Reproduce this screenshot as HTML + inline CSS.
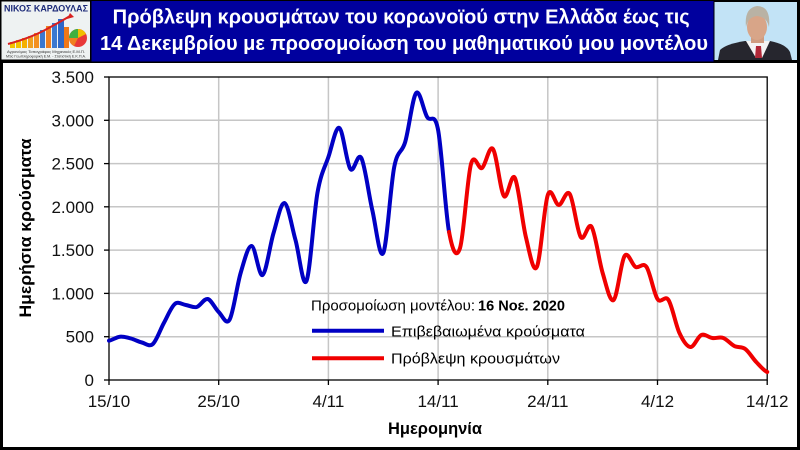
<!DOCTYPE html>
<html>
<head>
<meta charset="utf-8">
<style>
html,body{margin:0;padding:0;background:#000;}
body{width:800px;height:450px;overflow:hidden;}
svg{display:block;}
text{font-family:"Liberation Sans","DejaVu Sans",sans-serif;}
</style>
</head>
<body>
<svg width="800" height="450" viewBox="0 0 800 450" xmlns="http://www.w3.org/2000/svg">
  <rect x="0" y="0" width="800" height="450" fill="#000"/>

  <!-- Logo -->
  <rect x="1.5" y="1.5" width="88.5" height="58" fill="#eef2f2"/>
  <text x="46" y="11.5" font-size="9" font-weight="bold" fill="#1c2a78" text-anchor="middle" textLength="84" lengthAdjust="spacingAndGlyphs">ΝΙΚΟΣ ΚΑΡΔΟΥΛΑΣ</text>
  <g>
    <rect x="10" y="42" width="5" height="6" fill="#f2c200"/>
    <rect x="16" y="40" width="5" height="8" fill="#f2c200"/>
    <rect x="22" y="38" width="5" height="10" fill="#f5b000"/>
    <rect x="28" y="36" width="5" height="12" fill="#f0a020"/>
    <rect x="34" y="33" width="5" height="15" fill="#f39020"/>
    <rect x="40" y="30" width="5" height="18" fill="#3a78d0"/>
    <rect x="46" y="26" width="5" height="22" fill="#f08020"/>
    <rect x="52" y="23" width="5" height="25" fill="#3a78d0"/>
    <rect x="58" y="19" width="6" height="29" fill="#2e68c8"/>
    <rect x="64" y="27" width="5" height="21" fill="#f07818"/>
    <path d="M8,44 Q30,38 45,30 T70,16" stroke="#d82020" stroke-width="2" fill="none"/>
    <polygon points="70,13 74,17 67,19" fill="#d82020"/>
    <circle cx="78" cy="38" r="9" fill="#e83838"/>
    <path d="M78,38 L69,38 A9,9 0 0,1 78,29 Z" fill="#40b040"/>
    <path d="M78,38 L78,29 A9,9 0 0,1 86,34 Z" fill="#f0c000"/>
    <path d="M78,38 L69,38 A9,9 0 0,0 74,46 Z" fill="#f08020"/>
  </g>
  <text x="46" y="53" font-size="3.6" fill="#303030" text-anchor="middle" textLength="78" lengthAdjust="spacingAndGlyphs">Αγρονόμος Τοπογράφος Μηχανικός Ε.Μ.Π.</text>
  <text x="46" y="57.5" font-size="3.6" fill="#303030" text-anchor="middle" textLength="80" lengthAdjust="spacingAndGlyphs">MSc Γεωπληροφορική Ε.Μ. - Στατιστική Ε.Κ.Π.Α.</text>

  <!-- Blue title band -->
  <rect x="91.5" y="1" width="622" height="60.5" fill="#00009e"/>
  <text x="112.7" y="23.3" font-size="20" font-weight="bold" fill="#ffffff" textLength="577" lengthAdjust="spacingAndGlyphs">Πρόβλεψη κρουσμάτων του κορωνοϊού στην Ελλάδα έως τις</text>
  <text x="100" y="50" font-size="20" font-weight="bold" fill="#ffffff" textLength="608" lengthAdjust="spacingAndGlyphs">14 Δεκεμβρίου με προσομοίωση του μαθηματικού μου μοντέλου</text>

  <!-- Photo -->
  <rect x="714.5" y="2" width="82.5" height="58" fill="#c2e3f6"/>
  <path d="M718,60 L720,50 Q726,44 745,41 L770,41 Q786,44 790,52 L792,60 Z" fill="#26262e"/>
  <polygon points="746,41 770,41 762,58 756,58" fill="#f4f4f4"/>
  <polygon points="756,46 761,46 762,58 755,58" fill="#b02838"/>
  <rect x="751" y="34" width="13" height="9" fill="#cf9c80"/>
  <ellipse cx="757" cy="27" rx="10" ry="13" fill="#d8a588"/>
  <path d="M746,27 Q744,8 757,6 Q771,6 769,27 Q767,17 757,16 Q748,17 746,27 Z" fill="#b9b2a4"/>

  <!-- Chart white area -->
  <rect x="3" y="63" width="794" height="384" fill="#ffffff"/>

  <!-- Gridlines -->
  <g stroke="#c6c6c6" stroke-width="1.5">
    <line x1="109" y1="336.7" x2="767.2" y2="336.7"/>
    <line x1="109" y1="293.4" x2="767.2" y2="293.4"/>
    <line x1="109" y1="250.1" x2="767.2" y2="250.1"/>
    <line x1="109" y1="206.8" x2="767.2" y2="206.8"/>
    <line x1="109" y1="163.6" x2="767.2" y2="163.6"/>
    <line x1="109" y1="120.3" x2="767.2" y2="120.3"/>
    <line x1="218.7" y1="77" x2="218.7" y2="380"/>
    <line x1="328.4" y1="77" x2="328.4" y2="380"/>
    <line x1="438.1" y1="77" x2="438.1" y2="380"/>
    <line x1="547.8" y1="77" x2="547.8" y2="380"/>
    <line x1="657.5" y1="77" x2="657.5" y2="380"/>
  </g>

  <!-- Frame -->
  <rect x="109" y="77" width="658.2" height="303" fill="none" stroke="#000" stroke-width="1.3"/>
  <g stroke="#000" stroke-width="1.3">
    <line x1="104" y1="380" x2="109" y2="380"/>
    <line x1="104" y1="336.7" x2="109" y2="336.7"/>
    <line x1="104" y1="293.4" x2="109" y2="293.4"/>
    <line x1="104" y1="250.1" x2="109" y2="250.1"/>
    <line x1="104" y1="206.8" x2="109" y2="206.8"/>
    <line x1="104" y1="163.6" x2="109" y2="163.6"/>
    <line x1="104" y1="120.3" x2="109" y2="120.3"/>
    <line x1="104" y1="77" x2="109" y2="77"/>
    <line x1="109" y1="380" x2="109" y2="385"/>
    <line x1="218.7" y1="380" x2="218.7" y2="385"/>
    <line x1="328.4" y1="380" x2="328.4" y2="385"/>
    <line x1="438.1" y1="380" x2="438.1" y2="385"/>
    <line x1="547.8" y1="380" x2="547.8" y2="385"/>
    <line x1="657.5" y1="380" x2="657.5" y2="385"/>
    <line x1="767.2" y1="380" x2="767.2" y2="385"/>
  </g>

  <!-- Y labels -->
  <g font-size="17" fill="#111" text-anchor="end">
    <text x="94" y="386">0</text>
    <text x="94" y="342.7">500</text>
    <text x="94" y="299.4">1.000</text>
    <text x="94" y="256.1">1.500</text>
    <text x="94" y="212.8">2.000</text>
    <text x="94" y="169.6">2.500</text>
    <text x="94" y="126.3">3.000</text>
    <text x="94" y="83">3.500</text>
  </g>
  <!-- X labels -->
  <g font-size="17" fill="#111" text-anchor="middle">
    <text x="109" y="407">15/10</text>
    <text x="218.7" y="407">25/10</text>
    <text x="328.4" y="407">4/11</text>
    <text x="438.1" y="407">14/11</text>
    <text x="547.8" y="407">24/11</text>
    <text x="657.5" y="407">4/12</text>
    <text x="767.2" y="407">14/12</text>
  </g>

  <!-- Axis titles -->
  <text x="435" y="434" font-size="17" font-weight="bold" fill="#000" text-anchor="middle" textLength="94" lengthAdjust="spacingAndGlyphs">Ημερομηνία</text>
  <text transform="translate(31,228) rotate(-90)" x="0" y="0" font-size="17" font-weight="bold" fill="#000" text-anchor="middle" textLength="179" lengthAdjust="spacingAndGlyphs">Ημερήσια  κρούσματα</text>

  <!-- Blue series -->
  <path fill="none" stroke="#0000c4" stroke-width="4" stroke-linejoin="round" stroke-linecap="round"
   d="M109,340.7 C112.66,340.03 116.31,337.07 119.97,336.7
   S127.28,337.53 130.94,338.5
   S138.25,341.58 141.91,342.5
   S149.22,347.25 152.88,344
   S160.19,329.67 163.85,323
   S171.16,307 174.82,304
   S182.13,304.5 185.79,305
   S193.1,308 196.76,307
   S204.07,298.17 207.73,299
   S215.04,308.58 218.7,312
   S226.01,326 229.67,319.5
   S236.98,285.25 240.64,273
   S247.95,245.67 251.61,246
   S258.92,277.17 262.58,275
   S269.89,245 273.55,233
   S280.86,201.83 284.52,203
   S291.83,227 295.49,240
   S302.8,288.83 306.46,281
   S313.77,213.67 317.43,193
   S324.74,167.83 328.4,157
   S335.71,126 339.37,128
   S346.68,164 350.34,169
   S357.65,151.17 361.31,158
   S368.62,194.17 372.28,210
   S379.59,260.17 383.25,253
   S390.56,185.5 394.22,167
   S401.53,154.33 405.19,142
   S412.5,97.17 416.16,93
   S423.47,110.83 427.13,117
   S434.44,110.83 438.1,130
   S445.41,212.33 449.07,232"/>

  <!-- Red series -->
  <path fill="none" stroke="#f00000" stroke-width="4" stroke-linejoin="round" stroke-linecap="round"
   d="M449.07,232 C452.73,251.67 456.38,259.33 460.04,248
   S467.35,177.33 471.01,164
   S478.32,170.5 481.98,168
   S489.29,144.33 492.95,149
   S500.26,191.17 503.92,196
   S511.23,171.17 514.89,178
   S522.2,222.17 525.86,237
   S533.17,274 536.83,267
   S544.14,205.33 547.8,195
   S555.11,205.17 558.77,205
   S566.08,188.67 569.74,194
   S577.05,231.5 580.71,237
   S588.02,221 591.68,227
   S598.99,260.83 602.65,273
   S609.96,302.83 613.62,300
   S620.93,261.5 624.59,256
   S631.9,265.17 635.56,267
   S642.87,261.67 646.53,267
   S653.84,293.5 657.5,299
   S664.81,294.33 668.47,300
   S675.78,325.17 679.44,333
   S686.75,346.67 690.41,347
   S697.72,336.5 701.38,335
   S708.69,337.5 712.35,338
   S719.66,336.67 723.32,338
   S730.63,344.17 734.29,346
   S741.6,346.33 745.26,349
   S752.57,358.17 756.23,362
   S763.54,370.33 767.2,372"/>

  <!-- Legend -->
  <text x="311" y="310.5" font-size="15" fill="#000" textLength="164" lengthAdjust="spacingAndGlyphs">Προσομοίωση μοντέλου:</text>
  <text x="478" y="310.5" font-size="15" font-weight="bold" fill="#000" textLength="87" lengthAdjust="spacingAndGlyphs">16 Νοε. 2020</text>
  <line x1="312" y1="330.7" x2="384" y2="330.7" stroke="#0000c4" stroke-width="4"/>
  <text x="391" y="336.5" font-size="15" fill="#000" textLength="194" lengthAdjust="spacingAndGlyphs">Επιβεβαιωμένα κρούσματα</text>
  <line x1="312" y1="358.3" x2="384" y2="358.3" stroke="#f00000" stroke-width="4"/>
  <text x="391" y="363.5" font-size="15" fill="#000" textLength="169" lengthAdjust="spacingAndGlyphs">Πρόβλεψη κρουσμάτων</text>
</svg>
</body>
</html>
